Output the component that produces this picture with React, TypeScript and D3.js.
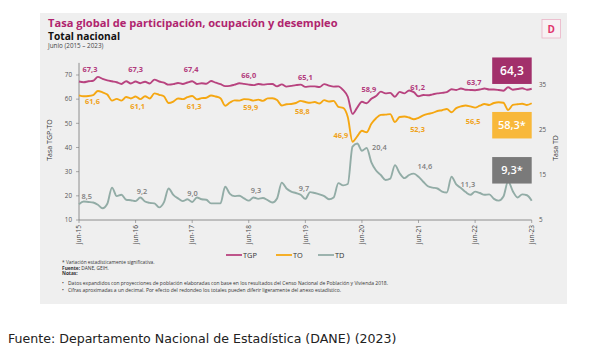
import React from "react";
import * as d3 from "d3";

// Monthly series, jun-2015 .. jun-2023 (97 months)
const tgp = [
  67.3, 67.0, 67.4, 67.6, 69.2, 68.4, 67.8, 67.4, 67.0, 66.3, 67.4, 66.5,
  67.3, 66.6, 67.2, 66.5, 68.1, 67.3, 66.8, 66.0, 66.2, 66.7, 66.3, 66.9,
  67.4, 66.3, 66.6, 66.4, 67.5, 66.8, 66.2, 65.4, 65.5, 66.0, 66.6, 66.3,
  66.0, 65.8, 66.3, 66.0, 66.2, 66.3, 65.3, 66.1, 65.2, 65.5, 65.8, 66.0,
  65.1, 65.3, 65.3, 65.0, 66.2, 65.6, 65.2, 65.3, 63.8, 61.0, 53.9, 56.5,
  58.9, 58.3, 60.2, 61.3, 63.1, 62.4, 62.6, 61.0, 63.0, 62.4, 63.6, 62.9,
  61.2, 61.7, 61.6, 62.0, 62.4, 62.6, 62.9, 64.1, 63.8, 64.4, 63.9, 63.8,
  63.7, 64.0, 64.4, 64.0, 64.0, 63.8, 63.5, 64.9, 63.9, 64.2, 64.5, 63.9,
  64.3,
];
const to = [
  61.6, 61.2, 61.3, 61.7, 63.4, 62.8, 61.9, 59.4, 60.1, 59.4, 60.9, 60.3,
  61.1, 60.0, 61.2, 60.3, 62.4, 61.8, 61.2, 58.4, 59.0, 60.3, 60.0, 60.8,
  61.3, 59.9, 60.4, 60.6, 61.5, 61.1, 60.4, 57.3, 58.6, 59.5, 59.4, 60.0,
  59.9, 59.4, 59.8, 59.3, 60.3, 60.4, 59.6, 57.4, 57.9, 58.0, 58.4, 59.3,
  58.8, 58.5, 58.8, 58.2, 59.6, 59.0, 59.3, 56.8, 56.4, 52.6, 42.4, 44.6,
  46.9, 46.3, 49.8, 52.1, 53.5, 53.6, 53.8, 50.5, 52.6, 52.8, 52.4, 51.7,
  52.3, 53.3, 53.9, 54.3, 55.1, 55.4, 55.9, 54.6, 56.3, 57.0, 57.4, 57.0,
  56.5, 57.3, 58.0, 57.6, 58.4, 58.7, 58.5, 55.5, 57.6, 57.9, 58.1, 57.6,
  58.3,
];
const td = [
  8.5, 9.1, 9.0, 8.9, 8.4, 7.6, 8.6, 12.2, 10.3, 10.6, 9.5, 9.4,
  9.2, 10.0, 9.1, 8.8, 8.7, 7.8, 8.9, 12.0, 10.6, 9.8, 9.2, 9.6,
  9.0, 10.0, 9.6, 9.5, 8.7, 8.7, 8.7, 12.4, 10.8, 10.3, 10.4, 9.8,
  9.3, 10.0, 9.7, 9.9, 9.4, 8.9, 9.8, 13.3, 12.0, 11.3, 11.0, 10.6,
  9.7, 11.2, 11.0, 10.7, 10.3, 9.6, 10.0, 13.2, 12.7, 13.0, 21.3, 22.0,
  20.4, 21.0, 17.8, 16.0, 15.0, 13.9, 14.2, 17.2, 15.4, 14.3, 15.0, 15.3,
  14.6, 13.5, 12.5, 12.2, 12.0, 11.3, 11.1, 14.6, 12.9, 12.1, 11.2, 10.6,
  11.3, 11.0, 10.6, 10.7, 9.7, 9.3, 10.2, 13.6, 11.4, 10.0, 10.7, 10.5,
  9.3,
];
const xTickLabels = ["jun-15", "jun-16", "jun-17", "jun-18", "jun-19", "jun-20", "jun-21", "jun-22", "jun-23"];
const leftTicks = [10, 20, 30, 40, 50, 60, 70];
const rightTicks = [5, 15, 25, 35];
const seriesNames = ["TGP", "TO", "TD"];
const lastMarks = ["", "*", "*"];
const footLines = [
  "* Variación estadísticamente significativa.",
  "Datos expandidos con proyecciones de población elaboradas con base en los resultados del Censo Nacional de Población y Vivienda 2018.",
  "Cifras aproximadas a un decimal. Por efecto del redondeo los totales pueden diferir ligeramente del anexo estadístico.",
];

// layout (label offsets relative to June points)
const labelDx = [
  [11, 0, -1, 0, 0, 7, -1, -1],
  [13.5, 2, 2, 2, -3, -21, -1, -2],
  [7.7, 6.4, 0.3, 7.2, -1.4, 17.5, 6.4, -7.2],
];
const labelDy = [
  [-9.8, -9.8, -9.6, -7, -6.4, -9.8, -5.9, -5.5],
  [8.4, 12.9, 13.4, 10.6, 11.6, 6.9, 14.2, 16.1],
  [-4.9, -6.7, -6, -7.3, -7.9, -0.7, -8.1, -5],
];
const boxTopDy = [-31.3, 8.7, -43.6];
const colors = ["#b8437f", "#f5a712", "#92aca6"];
const labelColors = ["#b23a7c", "#efa21a", "#7d7d7d"];
const boxColors = ["#a2306b", "#f8b83a", "#7a7a7a"];

export default function App() {
  const W = 594, H = 357;
  const x = d3.scaleLinear().domain([0, 96]).range([79, 531.7]);
  const yL = d3.scaleLinear().domain([10, 75]).range([220, 62.9]);
  const yR = d3.scaleLinear().domain([5, 40]).range([220, 62.5]);
  const data = [tgp, to, td];
  const scales = [yL, yL, yR];
  const fmt = (v: number) => v.toFixed(1).replace(".", ",");
  const font = "'Open Sans', 'Noto Sans', sans-serif";

  const paths = data.map((s, k) =>
    d3
      .line<number>()
      .x((_, i) => x(i))
      .y((v) => scales[k](v))
      .curve(d3.curveMonotoneX)(s) as string
  );

  return (
    <svg width={W} height={H} style={{ position: "absolute", left: 0, top: 0, background: "#fff" }} fontFamily={font}>
      <rect x={40} y={13} width={527} height={291} fill="#efefef" />
      <text x={48} y={27} fontSize={11.1} fontWeight={700} fill="#b0246e">
        Tasa global de participación, ocupación y desempleo
      </text>
      <text x={48} y={39.5} fontSize={10.2} fontWeight={700} fill="#111">Total nacional</text>
      <text x={48} y={48} fontSize={6.3} fill="#444">Junio (2015 – 2023)</text>

      <rect x={542} y={19.5} width={18.5} height={18.5} fill="#f7f1f3" stroke="#eab3c6" strokeWidth={0.8} />
      <text x={551.3} y={32.5} fontSize={10} fontWeight={700} fill="#e0336c" textAnchor="middle">D</text>

      {/* left axis */}
      <line x1={79} x2={79} y1={yL(75)} y2={220} stroke="#777" strokeWidth={0.8} />
      {leftTicks.map((t) => (
        <g key={t}>
          <line x1={76} x2={79} y1={yL(t)} y2={yL(t)} stroke="#777" strokeWidth={0.6} />
          <text x={72} y={yL(t)} dy="0.35em" textAnchor="end" fontSize={6.3} fill="#555">{t}</text>
        </g>
      ))}
      {rightTicks.map((t) => (
        <text key={t} x={539} y={yR(t)} dy="0.35em" fontSize={6.3} fill="#555">{t}</text>
      ))}
      <text transform={`translate(52,140) rotate(-90)`} textAnchor="middle" fontSize={7} fill="#333">Tasa TGP-TO</text>
      <text transform={`translate(558,148) rotate(-90)`} textAnchor="middle" fontSize={7} fill="#333">Tasa TD</text>

      {/* x axis */}
      <line x1={79} x2={531.7} y1={220} y2={220} stroke="#777" strokeWidth={0.8} />
      {xTickLabels.map((l, i) => (
        <g key={l}>
          <line x1={x(i * 12)} x2={x(i * 12)} y1={220} y2={223} stroke="#777" strokeWidth={0.6} />
          <text transform={`translate(${x(i * 12)},225) rotate(-90)`} dy="0.35em" textAnchor="end" fontSize={6.5} fill="#444">{l}</text>
        </g>
      ))}

      {paths.map((p, k) => (
        <path key={k} d={p} fill="none" stroke={colors[k]} strokeWidth={1.9} strokeLinejoin="round" />
      ))}

      {data.map((s, k) =>
        xTickLabels.slice(0, 8).map((_, j) => {
          const i = j * 12;
          return (
            <text key={`${k}-${j}`} x={x(i) + labelDx[k][j]} y={scales[k](s[i]) + labelDy[k][j]} textAnchor="middle"
              fontSize={7.4} fontWeight={k === 2 ? 600 : 700} fill={labelColors[k]}>
              {fmt(s[i])}
            </text>
          );
        })
      )}

      {data.map((s, k) => {
        const v = s[96];
        const top = scales[k](v) + boxTopDy[k];
        return (
          <g key={`b${k}`}>
            <rect x={x(96) - 39.5} y={top} width={39.5} height={26.5} fill={boxColors[k]} />
            <text x={x(96) - 19.75} y={top + 13.5} dy="0.35em" textAnchor="middle" fontSize={k === 0 ? 12 : 11} fontWeight={600} fill="#fff">
              {fmt(v) + lastMarks[k]}
            </text>
          </g>
        );
      })}

      {/* legend */}
      {seriesNames.map((n, k) => {
        const lx = [226, 276, 318][k];
        return (
          <g key={n}>
            <line x1={lx} x2={lx + 16} y1={255} y2={255} stroke={colors[k]} strokeWidth={1.8} />
            <text x={lx + 17} y={255} dy="0.35em" fontSize={7.4} fill="#333">{n}</text>
          </g>
        );
      })}

      {/* footnotes */}
      <text x={62} y={264} fontSize={4.8} fill="#333">{footLines[0]}</text>
      <text x={62} y={269.5} fontSize={4.8} fill="#333"><tspan fontWeight={700}>Fuente:</tspan> DANE, GEIH.</text>
      <text x={62} y={275} fontSize={4.8} fontWeight={700} fill="#333">Notas:</text>
      <text x={62} y={284.5} fontSize={4.8} fill="#333">•</text>
      <text x={68} y={284.5} fontSize={4.8} fill="#333" textLength={320} lengthAdjust="spacingAndGlyphs">{footLines[1]}</text>
      <text x={62} y={291.5} fontSize={4.8} fill="#333">•</text>
      <text x={68} y={291.5} fontSize={4.8} fill="#333" textLength={273} lengthAdjust="spacingAndGlyphs">{footLines[2]}</text>

      <text x={8} y={343} fontSize={12.6} fontFamily="'DejaVu Sans', Verdana, sans-serif" fill="#222">
        Fuente: Departamento Nacional de Estadística (DANE) (2023)
      </text>
    </svg>
  );
}
